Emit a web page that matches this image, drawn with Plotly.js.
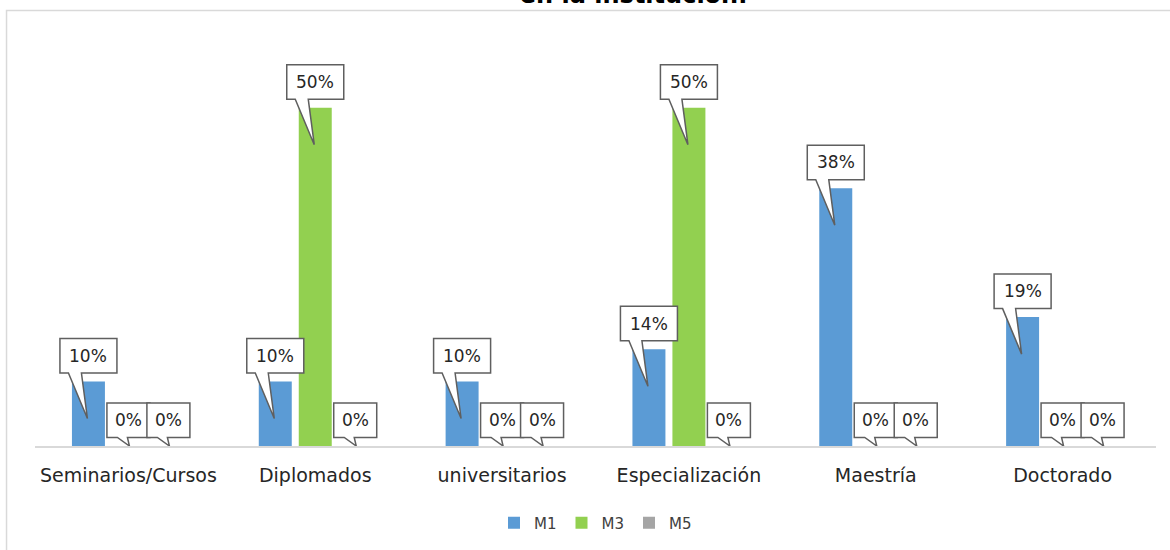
<!DOCTYPE html>
<html>
<head>
<meta charset="utf-8">
<script src="https://cdn.plot.ly/plotly-3.0.1.min.js"></script>
<style>html,body{margin:0;padding:0;background:#fff;}#chart{width:1170px;height:550px;}</style>
</head>
<body>
<div id="chart"></div>
<script>
// ---- data ----
var categories = ["Seminarios/Cursos", "Diplomados", "universitarios", "Especialización", "Maestría", "Doctorado"];
var seriesNames = ["M1", "M3", "M5"];
var m1 = [9.52, 9.52, 9.52, 14.29, 38.1, 19.05];
var m3 = [0, 50, 0, 50, 0, 0];
var m5 = [0, 0, 0, 0, 0, 0];
var titleText = "en la institución.";

// ---- styles ----
var colors = ["#5B9BD5", "#92D050", "#A5A5A5"];
var FONT = "DejaVu Sans";
var BARGAP = 0.358, BARGROUPGAP = 0.175;

var series = [m1, m3, m5];
var traces = series.map(function (vals, j) {
  return {
    type: "bar",
    name: seriesNames[j],
    x: categories,
    y: vals,
    marker: { color: colors[j] },
    hoverinfo: "none"
  };
});

// callout labels
var shapes = [];
var annotations = [];
var slot = (1 - BARGAP) / 3;
series.forEach(function (vals, j) {
  var off = (j - 1) * slot;
  vals.forEach(function (v, i) {
    var txt = Math.round(v) + "%";
    var hw = txt.length >= 3 ? 28.5 : 21.5;
    var b = 8.5, t = 43;
    var path;
    if (v > 0) {
      path = "M " + (-hw) + "," + b + " L -20," + b + " L -1,-37 L -7," + b +
             " L " + hw + "," + b + " L " + hw + "," + t + " L " + (-hw) + "," + t + " Z";
    } else {
      path = "M " + (-hw) + "," + b + " L -11," + b + " L 1,0 L -1," + b +
             " L " + hw + "," + b + " L " + hw + "," + t + " L " + (-hw) + "," + t + " Z";
    }
    shapes.push({
      type: "path", layer: "above",
      xref: "x", yref: "y",
      xsizemode: "pixel", ysizemode: "pixel",
      xanchor: i + off, yanchor: v,
      path: path,
      fillcolor: "#FFFFFF",
      line: { color: "#5f5f5f", width: 1.5 }
    });
    annotations.push({
      x: i + off, y: v, xref: "x", yref: "y",
      yshift: (b + t) / 2,
      text: txt, showarrow: false,
      xanchor: "center", yanchor: "middle",
      font: { family: FONT, size: 17, color: "#262626" }
    });
  });
});

// chart frame (decoration)
shapes.push({
  type: "rect", layer: "below", xref: "paper", yref: "paper",
  x0: -0.0254, x1: 1.2, y0: -0.6, y1: 1.0725,
  line: { color: "#D9D9D9", width: 1.5 }, fillcolor: "rgba(0,0,0,0)"
});

var layout = {
  width: 1170, height: 550,
  margin: { l: 35, r: 14, t: 40, b: 103 },
  paper_bgcolor: "#FFFFFF", plot_bgcolor: "#FFFFFF",
  font: { family: FONT, color: "#262626" },
  title: {
    text: "<b>" + titleText + "</b>",
    font: { family: FONT, size: 24, color: "#000000" },
    xref: "container", yref: "container",
    x: 0.5415, xanchor: "center",
    y: 0.995, yanchor: "bottom"
  },
  barmode: "group",
  bargap: BARGAP, bargroupgap: BARGROUPGAP,
  xaxis: {
    type: "category",
    showline: true, linecolor: "#D9D9D9", linewidth: 1.5,
    ticks: "", showgrid: false, zeroline: false,
    ticklabelstandoff: 12,
    tickfont: { family: FONT, size: 19, color: "#262626" }
  },
  yaxis: {
    range: [0, 60],
    showgrid: false, zeroline: false, showticklabels: false, showline: false, ticks: ""
  },
  showlegend: true,
  legend: {
    orientation: "h",
    x: 0.5, xanchor: "center",
    y: -0.1867, yanchor: "middle",
    font: { family: FONT, size: 15, color: "#404040" },
    itemwidth: 30
  },
  shapes: shapes,
  annotations: annotations,
  hovermode: false
};

Plotly.newPlot("chart", traces, layout, { staticPlot: true, displayModeBar: false });
</script>
</body>
</html>
